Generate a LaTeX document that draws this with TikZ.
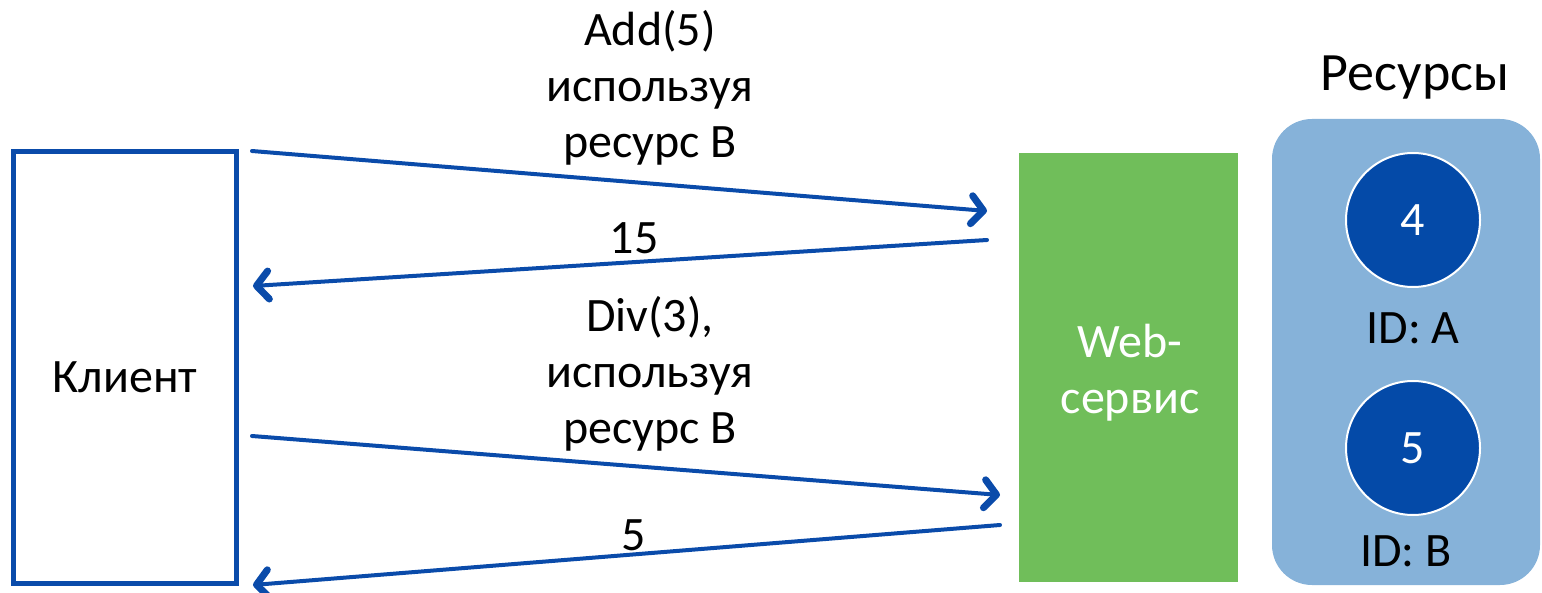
\documentclass[tikz,border=0pt]{standalone}
\usepackage{fontspec}
\setmainfont{Carlito}
\usetikzlibrary{arrows.meta}
\definecolor{boxblue}{HTML}{0A4BAA}
\definecolor{wsgreen}{HTML}{70BE5A}
\definecolor{poolblue}{HTML}{86B2D9}
\definecolor{resblue}{HTML}{044AA8}
\tikzset{
  txt/.style={font=\fontsize{48}{56}\selectfont, align=center, inner sep=0pt},
  msg/.style={draw=boxblue, line width=4pt, line cap=round,
    -{Straight Barb[length=12pt, width=28pt, line width=7pt, round]}},
  res/.style={circle, fill=resblue, draw=white, line width=2pt,
    minimum size=134pt, inner sep=0pt, text=white,
    font=\fontsize{48}{56}\selectfont},
}
\begin{document}
\begin{tikzpicture}[x=1pt,y=-1pt]
  \useasboundingbox (0,0) rectangle (1542,593);

  % client box
  \node[draw=boxblue, line width=5pt, minimum width=223pt, minimum height=431pt,
        inner sep=0pt] (client) at (124.5,367.5) {};
  \node[txt] (clientlbl) at (125,377) {Клиент};

  % web service
  \node[fill=wsgreen, minimum width=219pt, minimum height=429pt, inner sep=0pt]
        (ws) at (1128.5,367.5) {};
  \node[txt, text=white] (wslbl) at (1130,373) {Web-\\сервис};

  % resource pool
  \node[fill=poolblue, rounded corners=40pt, minimum width=268pt,
        minimum height=466pt, inner sep=0pt] (pool) at (1406,352) {};
  \node[txt, font=\fontsize{54}{60}\selectfont] (pooltitle) at (1415,78) {Ресурсы};
  \node[res] (ra) at (1413,220) {4};
  \node[txt] (ida) at (1413,328) {ID: A};
  \node[res] (rb) at (1413,448) {5};
  \node[txt] (idb) at (1406,551) {ID: B};

  % message end points
  \coordinate (c1) at (252,151);
  \coordinate (w1) at (987,211);
  \coordinate (w2) at (987,240);
  \coordinate (c2) at (253,286);
  \coordinate (c3) at (252,436);
  \coordinate (w3) at (1000,495);
  \coordinate (w4) at (1000,525);
  \coordinate (c4) at (253,585);

  \draw[msg] (c1) -- (w1);
  \draw[msg] (w2) -- (c2);
  \draw[msg] (c3) -- (w3);
  \draw[msg] (w4) -- (c4);

  % message labels
  \node[txt] (l1) at (650,88) {Add(5)\\используя\\ресурс B};
  \node[txt] (l2) at (634,238) {15};
  \node[txt] (l3) at (650,374) {Div(3),\\используя\\ресурс B};
  \node[txt] (l4) at (634,535) {5};
\end{tikzpicture}
\end{document}
